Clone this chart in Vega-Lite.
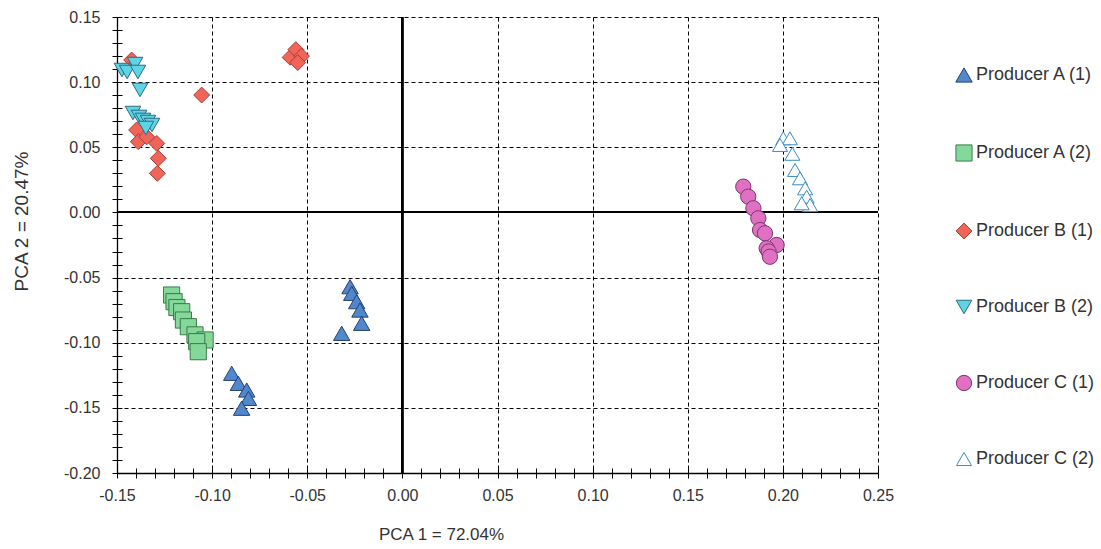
{
  "$schema": "https://vega.github.io/schema/vega-lite/v6.json",
  "width": 761,
  "height": 456,
  "autosize": {"type": "none"},
  "padding": {"left": 117, "top": 17, "right": 223, "bottom": 76},
  "background": "white",
  "config": {
    "view": {"stroke": null},
    "font": "Liberation Sans",
    "locale": {"number": {"decimal": ".", "thousands": ",", "grouping": [3], "currency": ["$", ""], "minus": "-"}}
  },
  "resolve": {"axis": {"x": "independent", "y": "independent"}},
  "data": {
    "values": [
      {"pc1": -0.0897, "pc2": -0.1235, "group": "Producer A (1)"},
      {"pc1": -0.0862, "pc2": -0.1312, "group": "Producer A (1)"},
      {"pc1": -0.0818, "pc2": -0.1363, "group": "Producer A (1)"},
      {"pc1": -0.0809, "pc2": -0.1427, "group": "Producer A (1)"},
      {"pc1": -0.0845, "pc2": -0.1503, "group": "Producer A (1)"},
      {"pc1": -0.0275, "pc2": -0.0570, "group": "Producer A (1)"},
      {"pc1": -0.0266, "pc2": -0.0621, "group": "Producer A (1)"},
      {"pc1": -0.0240, "pc2": -0.0685, "group": "Producer A (1)"},
      {"pc1": -0.0223, "pc2": -0.0749, "group": "Producer A (1)"},
      {"pc1": -0.0214, "pc2": -0.0851, "group": "Producer A (1)"},
      {"pc1": -0.0319, "pc2": -0.0928, "group": "Producer A (1)"},
      {"pc1": -0.1213, "pc2": -0.0634, "group": "Producer A (2)"},
      {"pc1": -0.1200, "pc2": -0.0685, "group": "Producer A (2)"},
      {"pc1": -0.1185, "pc2": -0.0730, "group": "Producer A (2)"},
      {"pc1": -0.1160, "pc2": -0.0762, "group": "Producer A (2)"},
      {"pc1": -0.1151, "pc2": -0.0826, "group": "Producer A (2)"},
      {"pc1": -0.1125, "pc2": -0.0877, "group": "Producer A (2)"},
      {"pc1": -0.1090, "pc2": -0.0940, "group": "Producer A (2)"},
      {"pc1": -0.1037, "pc2": -0.0979, "group": "Producer A (2)"},
      {"pc1": -0.1081, "pc2": -0.0992, "group": "Producer A (2)"},
      {"pc1": -0.1073, "pc2": -0.1069, "group": "Producer A (2)"},
      {"pc1": -0.1423, "pc2": 0.1170, "group": "Producer B (1)"},
      {"pc1": -0.1397, "pc2": 0.0633, "group": "Producer B (1)"},
      {"pc1": -0.1388, "pc2": 0.0543, "group": "Producer B (1)"},
      {"pc1": -0.1344, "pc2": 0.0580, "group": "Producer B (1)"},
      {"pc1": -0.1291, "pc2": 0.0530, "group": "Producer B (1)"},
      {"pc1": -0.1283, "pc2": 0.0415, "group": "Producer B (1)"},
      {"pc1": -0.1288, "pc2": 0.0300, "group": "Producer B (1)"},
      {"pc1": -0.1055, "pc2": 0.0901, "group": "Producer B (1)"},
      {"pc1": -0.0590, "pc2": 0.1190, "group": "Producer B (1)"},
      {"pc1": -0.0560, "pc2": 0.1250, "group": "Producer B (1)"},
      {"pc1": -0.0530, "pc2": 0.1200, "group": "Producer B (1)"},
      {"pc1": -0.0550, "pc2": 0.1150, "group": "Producer B (1)"},
      {"pc1": -0.1474, "pc2": 0.1093, "group": "Producer B (2)"},
      {"pc1": -0.1447, "pc2": 0.1078, "group": "Producer B (2)"},
      {"pc1": -0.1405, "pc2": 0.1139, "group": "Producer B (2)"},
      {"pc1": -0.1390, "pc2": 0.1078, "group": "Producer B (2)"},
      {"pc1": -0.1379, "pc2": 0.0940, "group": "Producer B (2)"},
      {"pc1": -0.1416, "pc2": 0.0763, "group": "Producer B (2)"},
      {"pc1": -0.1384, "pc2": 0.0733, "group": "Producer B (2)"},
      {"pc1": -0.1363, "pc2": 0.0710, "group": "Producer B (2)"},
      {"pc1": -0.1337, "pc2": 0.0694, "group": "Producer B (2)"},
      {"pc1": -0.1316, "pc2": 0.0671, "group": "Producer B (2)"},
      {"pc1": -0.1348, "pc2": 0.0648, "group": "Producer B (2)"},
      {"pc1": 0.1792, "pc2": 0.0198, "group": "Producer C (1)"},
      {"pc1": 0.1818, "pc2": 0.0121, "group": "Producer C (1)"},
      {"pc1": 0.1845, "pc2": 0.0032, "group": "Producer C (1)"},
      {"pc1": 0.1871, "pc2": -0.0045, "group": "Producer C (1)"},
      {"pc1": 0.1880, "pc2": -0.0135, "group": "Producer C (1)"},
      {"pc1": 0.1906, "pc2": -0.0160, "group": "Producer C (1)"},
      {"pc1": 0.1967, "pc2": -0.0250, "group": "Producer C (1)"},
      {"pc1": 0.1915, "pc2": -0.0275, "group": "Producer C (1)"},
      {"pc1": 0.1925, "pc2": -0.0300, "group": "Producer C (1)"},
      {"pc1": 0.1932, "pc2": -0.0340, "group": "Producer C (1)"},
      {"pc1": 0.2002, "pc2": 0.0569, "group": "Producer C (2)"},
      {"pc1": 0.2037, "pc2": 0.0569, "group": "Producer C (2)"},
      {"pc1": 0.1985, "pc2": 0.0518, "group": "Producer C (2)"},
      {"pc1": 0.2050, "pc2": 0.0450, "group": "Producer C (2)"},
      {"pc1": 0.2064, "pc2": 0.0326, "group": "Producer C (2)"},
      {"pc1": 0.2090, "pc2": 0.0262, "group": "Producer C (2)"},
      {"pc1": 0.2117, "pc2": 0.0185, "group": "Producer C (2)"},
      {"pc1": 0.2125, "pc2": 0.0121, "group": "Producer C (2)"},
      {"pc1": 0.2143, "pc2": 0.0057, "group": "Producer C (2)"},
      {"pc1": 0.2099, "pc2": 0.0070, "group": "Producer C (2)"}
    ]
  },
  "layer": [
    {
      "mark": {"type": "rule", "color": "black", "strokeWidth": 1.3},
      "encoding": {
        "x": {
          "datum": 0, "type": "quantitative",
          "axis": {
            "orient": "bottom", "title": null, "labels": false, "domain": false, "grid": false,
            "values": [-0.15,-0.14,-0.13,-0.12,-0.11,-0.1,-0.09,-0.08,-0.07,-0.06,-0.05,-0.04,-0.03,-0.02,-0.01,0,0.01,0.02,0.03,0.04,0.05,0.06,0.07,0.08,0.09,0.1,0.11,0.12,0.13,0.14,0.15,0.16,0.17,0.18,0.19,0.2,0.21,0.22,0.23,0.24,0.25],
            "tickCount": 100, "tickColor": "black", "tickWidth": 1, "tickSize": -5
          }
        }
      }
    },
    {
      "mark": {"type": "rule", "color": "black", "strokeWidth": 1.3},
      "encoding": {
        "y": {
          "datum": 0, "type": "quantitative",
          "axis": {
            "orient": "left", "title": null, "labels": false, "domain": false, "grid": false,
            "values": [-0.2,-0.19,-0.18,-0.17,-0.16,-0.15,-0.14,-0.13,-0.12,-0.11,-0.1,-0.09,-0.08,-0.07,-0.06,-0.05,-0.04,-0.03,-0.02,-0.01,0,0.01,0.02,0.03,0.04,0.05,0.06,0.07,0.08,0.09,0.1,0.11,0.12,0.13,0.14,0.15],
            "tickCount": 100, "tickColor": "black", "tickWidth": 1, "tickSize": -5
          }
        }
      }
    },
    {
      "mark": {"type": "point", "filled": true, "opacity": 1, "strokeWidth": 1},
      "encoding": {
        "x": {
          "field": "pc1", "type": "quantitative",
          "scale": {"domain": [-0.15, 0.25], "nice": false, "zero": false},
          "axis": {
            "orient": "bottom",
            "title": "PCA 1 = 72.04%",
            "titleFontSize": 17, "titleFontWeight": "normal", "titleColor": "#333",
            "titleX": 324, "titleY": 53, "titleBaseline": "top",
            "values": [-0.15,-0.14,-0.13,-0.12,-0.11,-0.1,-0.09,-0.08,-0.07,-0.06,-0.05,-0.04,-0.03,-0.02,-0.01,0,0.01,0.02,0.03,0.04,0.05,0.06,0.07,0.08,0.09,0.1,0.11,0.12,0.13,0.14,0.15,0.16,0.17,0.18,0.19,0.2,0.21,0.22,0.23,0.24,0.25],
            "tickCount": 100,
            "labelExpr": "abs(round(datum.value*100)) % 5 == 0 ? format(datum.value, '.2f') : ''",
            "labelOverlap": false, "labelFlush": false,
            "labelFontSize": 16, "labelColor": "#333", "labelPadding": 9,
            "domainColor": "black", "domainWidth": 1.3,
            "tickColor": "black", "tickWidth": 1, "tickSize": 5,
            "grid": true, "gridColor": "black", "gridDash": [4, 3], "gridWidth": 1,
            "gridOpacity": {"condition": {"test": "abs(round(datum.value*100)) % 5 == 0", "value": 1}, "value": 0}
          }
        },
        "y": {
          "field": "pc2", "type": "quantitative",
          "scale": {"domain": [-0.2, 0.15], "nice": false, "zero": false},
          "axis": {
            "orient": "left",
            "title": "PCA 2 = 20.47%",
            "titleFontSize": 19, "titleFontWeight": "normal", "titleColor": "#333",
            "titleX": -86, "titleY": 204,
            "values": [-0.2,-0.19,-0.18,-0.17,-0.16,-0.15,-0.14,-0.13,-0.12,-0.11,-0.1,-0.09,-0.08,-0.07,-0.06,-0.05,-0.04,-0.03,-0.02,-0.01,0,0.01,0.02,0.03,0.04,0.05,0.06,0.07,0.08,0.09,0.1,0.11,0.12,0.13,0.14,0.15],
            "tickCount": 100,
            "labelExpr": "abs(round(datum.value*100)) % 5 == 0 ? format(datum.value, '.2f') : ''",
            "labelOverlap": false, "labelFlush": false,
            "labelFontSize": 16, "labelColor": "#333", "labelPadding": 12,
            "domainColor": "black", "domainWidth": 1.3,
            "tickColor": "black", "tickWidth": 1, "tickSize": 5,
            "grid": true, "gridColor": "black", "gridDash": [4, 3], "gridWidth": 1,
            "gridOpacity": {"condition": {"test": "abs(round(datum.value*100)) % 5 == 0", "value": 1}, "value": 0}
          }
        },
        "shape": {
          "field": "group", "type": "nominal",
          "scale": {
            "domain": ["Producer A (1)", "Producer A (2)", "Producer B (1)", "Producer B (2)", "Producer C (1)", "Producer C (2)"],
            "range": ["triangle-up", "square", "diamond", "triangle-down", "circle", "triangle-up"]
          },
          "legend": {
            "title": null, "orient": "none", "legendX": 838, "legendY": 49,
            "padding": 0, "rowPadding": 57, "symbolStrokeWidth": 1,
            "labelFontSize": 18, "labelColor": "#333", "labelOffset": 3
          }
        },
        "size": {
          "field": "group", "type": "nominal",
          "scale": {
            "domain": ["Producer A (1)", "Producer A (2)", "Producer B (1)", "Producer B (2)", "Producer C (1)", "Producer C (2)"],
            "range": [270, 225, 230, 270, 200, 270]
          },
          "legend": {
            "title": null, "orient": "none", "legendX": 838, "legendY": 49,
            "padding": 0, "rowPadding": 57, "symbolStrokeWidth": 1,
            "labelFontSize": 18, "labelColor": "#333", "labelOffset": 3
          }
        },
        "fill": {
          "field": "group", "type": "nominal",
          "scale": {
            "domain": ["Producer A (1)", "Producer A (2)", "Producer B (1)", "Producer B (2)", "Producer C (1)", "Producer C (2)"],
            "range": ["#5187cc", "#84d99a", "#f0645a", "#5fd4e6", "#e070c2", "#ffffff"]
          },
          "legend": {
            "title": null, "orient": "none", "legendX": 838, "legendY": 49,
            "padding": 0, "rowPadding": 57, "symbolStrokeWidth": 1,
            "labelFontSize": 18, "labelColor": "#333", "labelOffset": 3
          }
        },
        "stroke": {
          "field": "group", "type": "nominal",
          "scale": {
            "domain": ["Producer A (1)", "Producer A (2)", "Producer B (1)", "Producer B (2)", "Producer C (1)", "Producer C (2)"],
            "range": ["#24436e", "#3a7a4c", "#a83e34", "#2c6c7e", "#7a3670", "#3a8cc4"]
          },
          "legend": {
            "title": null, "orient": "none", "legendX": 838, "legendY": 49,
            "padding": 0, "rowPadding": 57, "symbolStrokeWidth": 1,
            "labelFontSize": 18, "labelColor": "#333", "labelOffset": 3
          }
        }
      }
    }
  ]
}
